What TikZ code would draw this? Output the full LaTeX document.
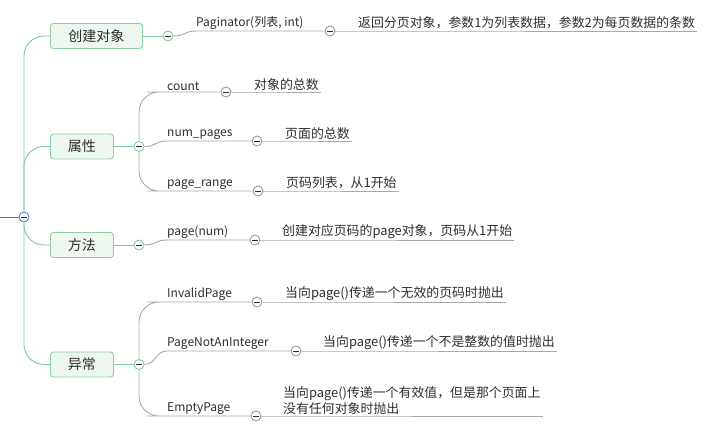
\documentclass[tikz,border=0pt]{standalone}
\usepackage{fontspec}
\setmainfont{Noto Sans CJK SC}
\usepackage{tikz}

\definecolor{trunkgreen}{HTML}{7DC89A}
\definecolor{boxgreen}{HTML}{8CCFA3}
\definecolor{boxfill}{HTML}{EEF6F0}
\definecolor{branchgray}{HTML}{A8A8A8}
\definecolor{foldgray}{HTML}{8E8E8E}
\definecolor{rootblue}{HTML}{3D77C4}
\definecolor{txt}{HTML}{2E2E2E}

\tikzset{
  topic/.style={draw=boxgreen,fill=boxfill,rounded corners=3pt,line width=0.9pt,minimum height=25pt,anchor=west,font=\fontsize{14}{16}\selectfont,text=txt},
  fold/.style={circle,draw=#1,fill=white,minimum size=10pt,inner sep=0pt,line width=0.8pt,
    path picture={\draw[line width=0.9pt,txt] ([xshift=-2.6pt]path picture bounding box.center) -- ([xshift=2.6pt]path picture bounding box.center);}},
  label/.style={anchor=south west,inner xsep=0pt,inner ysep=1.5pt,font=\fontsize{12}{14}\selectfont,text=txt},
  note/.style={anchor=south west,inner xsep=0pt,inner ysep=1.5pt,align=left,font=\fontsize{12.9}{15.5}\selectfont,text=txt},
  greenline/.style={trunkgreen,line width=0.9pt},
  grayline/.style={branchgray,line width=0.9pt}
}

\begin{document}
\begin{tikzpicture}[x=1pt,y=1pt,yscale=-1,xscale=1]
\useasboundingbox (0,0) rectangle (721,425);

%Root
\coordinate (in) at (0,217);
\node [fold=rootblue] (R) at (24,217) {};

%Topics
\node [topic,minimum width=92pt] (b1) at (50,36) {创建对象};
\node [topic,minimum width=63pt] (b2) at (50,146.5) {属性};
\node [topic,minimum width=63pt] (b3) at (50,245) {方法};
\node [topic,minimum width=63pt] (b4) at (50,364.5) {异常};

%Topic folds
\node [fold=trunkgreen] (k1) at (168,36) {};
\node [fold=trunkgreen] (k2) at (139,146.5) {};
\node [fold=trunkgreen] (k3) at (139,245) {};
\node [fold=trunkgreen] (k4) at (139,364.5) {};

% Text Node
\node [label] (l1) at (196,31) {Paginator(列表, int)};
\node [label] (l2) at (167,92) {count};
\node [label] (l3) at (167,141) {num\_pages};
\node [label] (l4) at (167,191) {page\_range};
\node [label] (l5) at (167,240) {page(num)};
\node [label] (l6) at (167,302) {InvalidPage};
\node [label] (l7) at (167,351) {PageNotAnInteger};
\node [label] (l8) at (167,416) {EmptyPage};

%Branch folds
\node [fold=foldgray] (f1) at (330,31) {};
\node [fold=foldgray] (f2) at (226,92) {};
\node [fold=foldgray] (f3) at (257,141) {};
\node [fold=foldgray] (f4) at (258,191) {};
\node [fold=foldgray] (f5) at (255,240) {};
\node [fold=foldgray] (f6) at (257,302) {};
\node [fold=foldgray] (f7) at (296,351) {};
\node [fold=foldgray] (f8) at (256,416) {};

% Text Node
\node [note] (d1) at (358,31) {返回分页对象，参数1为列表数据，参数2为每页数据的条数};
\node [note] (d2) at (254,92) {对象的总数};
\node [note] (d3) at (285,141) {页面的总数};
\node [note] (d4) at (286,191) {页码列表，从1开始};
\node [note] (d5) at (282,240) {创建对应页码的page对象，页码从1开始};
\node [note] (d6) at (285,302) {当向page()传递一个无效的页码时抛出};
\node [note] (d7) at (323,351) {当向page()传递一个不是整数的值时抛出};
\node [note] (d8) at (283,416) {当向page()传递一个有效值，但是那个页面上\\没有任何对象时抛出};

%Trunk
\draw [rootblue,line width=0.9pt] (in) -- (R.west);
\draw [greenline,rounded corners=20pt] (R.north) |- (b1.west);
\draw [greenline,rounded corners=20pt] (R.north) |- (b2.west);
\draw [greenline,rounded corners=20pt] (R.south) |- (b3.west);
\draw [greenline,rounded corners=20pt] (R.south) |- (b4.west);
\draw [greenline] (b1.east) -- (k1.west);
\draw [greenline] (b2.east) -- (k2.west);
\draw [greenline] (b3.east) -- (k3.west);
\draw [greenline] (b4.east) -- (k4.west);

%Branches
\draw [grayline] (k1.east) .. controls +(12,0) and +(-12,0) .. (l1.south west) -- (f1.west);
\draw [grayline,rounded corners=20pt] (k2.north) |- (l2.south west) -- (f2.west);
\draw [grayline] (k2.east) .. controls +(12,0) and +(-12,0) .. (l3.south west) -- (f3.west);
\draw [grayline,rounded corners=20pt] (k2.south) |- (l4.south west) -- (f4.west);
\draw [grayline] (k3.east) .. controls +(12,0) and +(-12,0) .. (l5.south west) -- (f5.west);
\draw [grayline,rounded corners=20pt] (k4.north) |- (l6.south west) -- (f6.west);
\draw [grayline] (k4.east) .. controls +(12,0) and +(-12,0) .. (l7.south west) -- (f7.west);
\draw [grayline,rounded corners=20pt] (k4.south) |- (l8.south west) -- (f8.west);

%Notes
\foreach \i in {1,...,8}
  \draw [grayline] (f\i.east) -- (d\i.south west) -- ([xshift=2pt]d\i.south east);

\end{tikzpicture}
\end{document}
